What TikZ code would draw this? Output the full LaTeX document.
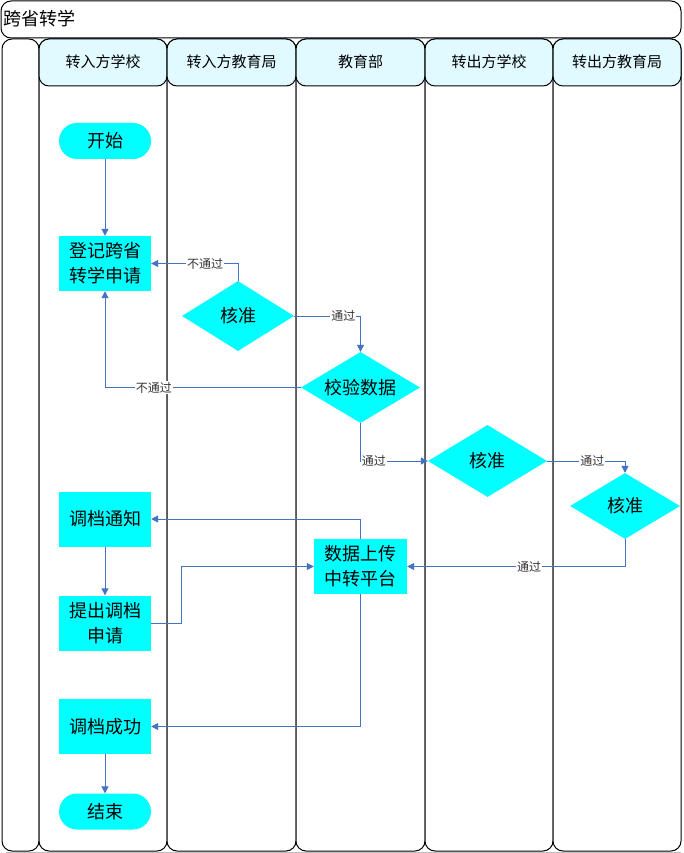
\documentclass[tikz,border=0pt]{standalone}
\usepackage{fontspec}
\setmainfont{Liberation Serif}
\newfontfamily\cjk{Noto Sans CJK SC}
\usetikzlibrary{shapes.geometric,arrows.meta}
\definecolor{lnblue}{HTML}{4472C4}
\definecolor{hdrc}{HTML}{E0FAFF}
\definecolor{boxc}{HTML}{00FFFF}
\begin{document}
\begin{tikzpicture}[x=1pt,y=-1pt,
  lane/.style={draw=black,line width=1pt,rounded corners=10pt},
  hdr/.style={draw=black,line width=1pt,fill=hdrc,rounded corners=10pt},
  hdrtxt/.style={font=\cjk\fontsize{15}{18}\selectfont},
  proc/.style={fill=boxc,minimum width=92pt,minimum height=55pt,inner sep=0pt,align=center,font=\cjk\fontsize{18}{25}\selectfont},
  term/.style={fill=boxc,rounded corners=18pt,minimum width=92pt,minimum height=36pt,inner sep=0pt,font=\cjk\fontsize{18}{22}\selectfont},
  dec/.style={diamond,fill=boxc,aspect=1.7,inner sep=0pt,font=\cjk\fontsize{18}{22}\selectfont},
  conn/.style={draw=lnblue,line width=1pt,-{Triangle[length=7pt,width=7pt]}},
  lbl/.style={fill=white,inner sep=1pt,font=\cjk\fontsize{12}{14}\selectfont,text=black!80}
]
\useasboundingbox (0,0) rectangle (683,853);
% shadow
\draw[gray!50,line width=1.2pt] (6,852.5) -- (681,852.5);
% title
\draw[lane,fill=white] (1,1) rectangle (681,38);
\node[anchor=west,inner sep=0pt,font=\cjk\fontsize{18}{22}\selectfont] (title) at (3,19) {跨省转学};
% lanes
\draw[lane,fill=white] (2,39) rectangle (39,851);
\foreach \xl/\xr in {39/167,167/296,296/425,425/553,553/681}{
  \draw[lane,fill=white] (\xl,39) rectangle (\xr,851);
  \draw[hdr] (\xl,39) rectangle (\xr,86);
}
\node[hdrtxt] (h-a) at (103,62) {转入方学校};
\node[hdrtxt] (h-b) at (231.5,62) {转入方教育局};
\node[hdrtxt] (h-c) at (360.5,62) {教育部};
\node[hdrtxt] (h-d) at (489,62) {转出方学校};
\node[hdrtxt] (h-e) at (617,62) {转出方教育局};
% nodes
\node[term] (start) at (105,141) {开始};
\node[proc] (reg) at (105,263.5) {登记跨省\\转学申请};
\node[dec,minimum width=112pt,minimum height=70pt] (hz1) at (238,316) {核准};
\node[dec,minimum width=119pt,minimum height=71pt] (chk) at (360.5,387.5) {校验数据};
\node[dec,minimum width=119pt,minimum height=72pt] (hz2) at (487.5,461) {核准};
\node[dec,minimum width=110pt,minimum height=66pt] (hz3) at (625,506) {核准};
\node[proc] (notice) at (105,519) {调档通知};
\node[proc] (apply) at (105,623) {提出调档\\申请};
\node[proc,minimum width=93pt] (up) at (360.5,566.5) {数据上传\\中转平台};
\node[proc] (succ) at (105,726.5) {调档成功};
\node[term] (end) at (105,811.5) {结束};
\coordinate (bend) at (181,623);
% connectors
\draw[conn] (start) -- (reg);
\draw[conn] (hz1.north) |- node[lbl,pos=0.69]{不通过} (reg.east);
\draw[conn] (hz1.east) -| node[lbl,pos=0.37]{通过} (chk.north);
\draw[conn] (chk.west) -| node[lbl,pos=0.375]{不通过} (reg.south);
\draw[conn] (chk.south) |- node[lbl,pos=0.6]{通过} (hz2.west);
\draw[conn] (hz2.east) -| node[lbl,pos=0.29]{通过} (hz3.north);
\draw[conn] (hz3.south) |- node[lbl,pos=0.72]{通过} (up.east);
\draw[conn] (up.north) |- (notice.east);
\draw[conn] (notice) -- (apply);
\draw[conn] (apply.east) -- (bend) |- (up.west);
\draw[conn] (up.south) |- (succ.east);
\draw[conn] (succ) -- (end);
\end{tikzpicture}
\end{document}
